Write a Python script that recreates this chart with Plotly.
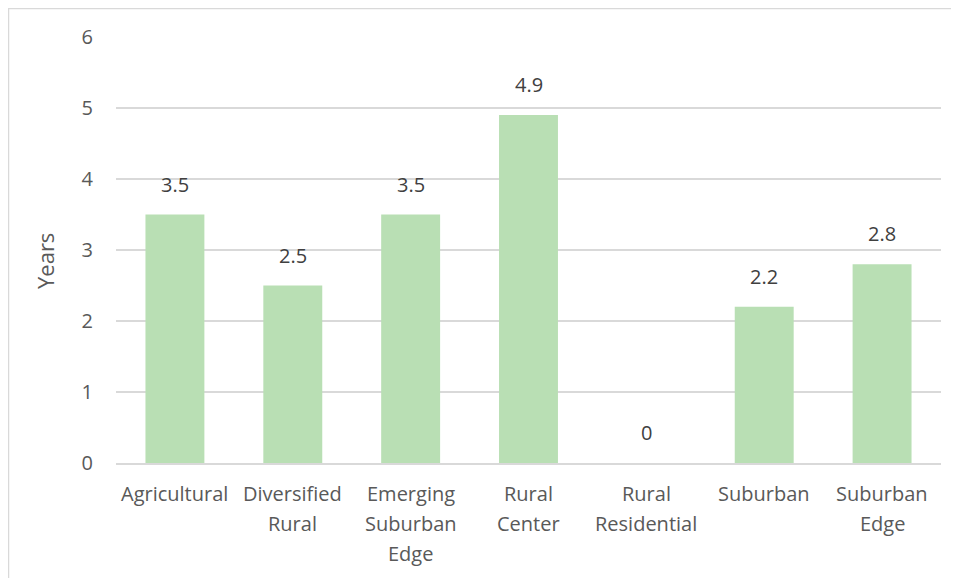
import plotly.graph_objects as go

# ── Data ──────────────────────────────────────────────────────────────────────
categories = [
    "Agricultural",
    "Diversified Rural",
    "Emerging Suburban Edge",
    "Rural Center",
    "Rural Residential",
    "Suburban",
    "Suburban Edge",
]
# how each category label wraps under the axis
label_lines = [
    ["Agricultural"],
    ["Diversified", "Rural"],
    ["Emerging", "Suburban", "Edge"],
    ["Rural", "Center"],
    ["Rural", "Residential"],
    ["Suburban"],
    ["Suburban", "Edge"],
]
years = [3.5, 2.5, 3.5, 4.9, 0, 2.2, 2.8]
y_ticks = [0, 1, 2, 3, 4, 5, 6]
y_title = "Years"

# ── Style ─────────────────────────────────────────────────────────────────────
BAR = "#b9dfb4"
TEXT = "#595959"
LABEL = "#404040"
GRID = "#d9d9d9"
FONT = "Open Sans, sans-serif"
FS = 20

# page body adds an 8px offset, so the figure is drawn 8px short
W, H = 951, 570
L, R, T, B = 108, 18, 29, 115

fig = go.Figure(go.Bar(
    x=categories, y=years,
    marker=dict(color=BAR, line=dict(width=0)),
    hoverinfo="skip",
))

# value labels above the bars
for c, v in zip(categories, years):
    fig.add_annotation(
        x=c, y=v, text=f"{v:g}", showarrow=False,
        yanchor="bottom", yshift=15,
        font=dict(family=FONT, size=FS, color=LABEL),
    )

# category labels, one annotation per line for Excel-like spacing
for c, lines in zip(categories, label_lines):
    for i, ln in enumerate(lines):
        fig.add_annotation(
            x=c, y=0, text=ln, showarrow=False,
            yanchor="middle", yshift=-(30 + 30 * i),
            font=dict(family=FONT, size=FS, color=TEXT),
        )

# pixel -> paper helpers (figure coordinates)
px = lambda p: (p - L) / (W - L - R)
py = lambda p: 1 - (p - T) / (H - T - B)

# y-axis title, placed like the Excel original
fig.add_annotation(
    xref="paper", yref="paper", x=px(37), y=py(253),
    text=y_title, textangle=-90, showarrow=False,
    xanchor="center", yanchor="middle",
    font=dict(family=FONT, size=22, color=TEXT),
)

# chart-area border (top + left only visible in the crop)
fig.add_shape(type="line", xref="paper", yref="paper",
              x0=px(0), x1=px(W + 5), y0=py(0), y1=py(0),
              line=dict(color=GRID, width=2.5))
fig.add_shape(type="line", xref="paper", yref="paper",
              x0=px(0), x1=px(0), y0=py(0), y1=py(H + 5),
              line=dict(color=GRID, width=2.5))

fig.update_layout(
    width=W, height=H,
    margin=dict(l=L, r=R, t=T, b=B),
    paper_bgcolor="white", plot_bgcolor="white",
    bargap=0.5, showlegend=False,
    font=dict(family=FONT, size=FS, color=TEXT),
)
fig.update_xaxes(
    showgrid=False, showline=True, linecolor=GRID, linewidth=1.5,
    ticks="", showticklabels=False, fixedrange=True,
)
fig.update_yaxes(
    range=[0, 6], tickvals=y_ticks, showgrid=True, gridcolor=GRID, gridwidth=1.5,
    zeroline=False, showline=False, ticks="", ticklabelstandoff=22,
    tickfont=dict(size=FS, color=TEXT), fixedrange=True,
)

fig.write_html("out.html")
